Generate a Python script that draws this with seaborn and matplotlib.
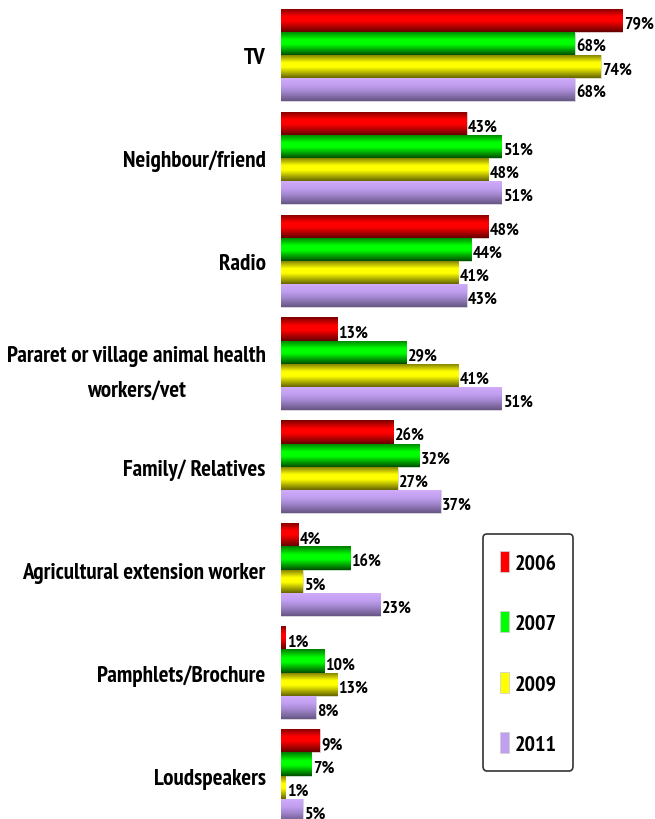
import numpy as np
import pandas as pd
import seaborn as sns
import matplotlib.pyplot as plt
from matplotlib import font_manager
from matplotlib.colors import LinearSegmentedColormap

categories = [
    "TV",
    "Neighbour/friend",
    "Radio",
    "Pararet or village animal health\nworkers/vet",
    "Family/ Relatives",
    "Agricultural extension worker",
    "Pamphlets/Brochure",
    "Loudspeakers",
]
years = ["2006", "2007", "2009", "2011"]
v2006 = [79, 43, 48, 13, 26, 4, 1, 9]
v2007 = [68, 51, 44, 29, 32, 16, 10, 7]
v2009 = [74, 48, 41, 41, 27, 5, 13, 1]
v2011 = [68, 51, 43, 51, 37, 23, 8, 5]
series = [v2006, v2007, v2009, v2011]

# top-to-bottom shading of each bar, giving a rounded "tube" look
shades = [
    [(0.0, "#7a0000"), (0.35, "#ff0000"), (0.55, "#ff0000"), (1.0, "#660000")],
    [(0.0, "#007a00"), (0.35, "#00ff00"), (0.55, "#00ff00"), (1.0, "#005000")],
    [(0.0, "#767600"), (0.35, "#ffff00"), (0.55, "#ffff00"), (1.0, "#666600")],
    [(0.0, "#d2aefa"), (0.35, "#c09ef0"), (0.6, "#a488d0"), (1.0, "#675684")],
]
base_colors = ["#ff0000", "#00ff00", "#ffff00", "#c09ef0"]

df = pd.DataFrame({
    "category": np.tile(categories, len(years)),
    "year": np.repeat(years, len(categories)),
    "value": np.concatenate(series),
})

sns.set_theme(style="white")

# pick a condensed family that ships a bold face
def _is_bold(w):
    return (isinstance(w, int) and w >= 600) or str(w).lower() in ("bold", "semibold", "demibold", "heavy", "black", "extra bold")

bold_families = {f.name for f in font_manager.fontManager.ttflist if _is_bold(f.weight)}
preferred = ["Arial Narrow", "Liberation Sans Narrow", "Archivo Narrow",
             "PT Sans Narrow", "Roboto Condensed", "Fira Sans Condensed",
             "Barlow Condensed", "Pragati Narrow", "Oswald", "Francois One"]
narrow = next((n for n in preferred if n in bold_families), "DejaVu Sans")
plt.rcParams["font.family"] = [narrow, "DejaVu Sans"]
plt.rcParams["font.weight"] = "bold"

W, H = 655, 820
fig = plt.figure(figsize=(W / 100, H / 100), dpi=100)
renderer = fig.canvas.get_renderer()


def size_for_width(text, target_px, ref=10):
    probe = fig.text(0, 0, text, fontsize=ref, fontweight="bold")
    w = probe.get_window_extent(renderer).width
    probe.remove()
    return ref * target_px / w


cat_size = min(size_for_width("Pararet or village animal health", 260), 18)
val_size = min(size_for_width("68%", 30), 15)
leg_size = min(size_for_width("2006", 42), 17)

ax = fig.add_axes([281 / W, 1 - 828 / H, (W - 281) / W, (828 - 4.5) / H])

sns.barplot(
    data=df, y="category", x="value", hue="year", orient="h",
    palette=base_colors, saturation=1, width=0.9,
    edgecolor="#d6d6d6", linewidth=0.6, ax=ax, legend=True,
)

xlim = (0, (W - 281) / 4.32)
ylim = ax.get_ylim()

for i, cont in enumerate(ax.containers):
    cmap = LinearSegmentedColormap.from_list(f"shade{i}", shades[i])
    grad = cmap(np.linspace(0, 1, 64))[:, None, :3]
    for rect in cont:
        x0, y0 = rect.get_x(), rect.get_y()
        w, h = rect.get_width(), rect.get_height()
        im = ax.imshow(grad, extent=[x0, x0 + w, y0 + h, y0], origin="upper",
                       aspect="auto", interpolation="bilinear", zorder=2.5)
        im.set_clip_path(rect)
    labels = ax.bar_label(cont, labels=[f"{v}%" for v in series[i]],
                          padding=2, fontsize=val_size, fontweight="bold",
                          zorder=4, color="black")
    for t in labels:
        t.xyann = (1.0, -2.5)

ax.set_xlim(*xlim)
ax.set_ylim(*ylim)

ax.set_xlabel("")
ax.set_ylabel("")
ax.set_xticks([])
for s in ax.spines.values():
    s.set_visible(False)
ax.tick_params(axis="y", length=0, pad=11, labelsize=cat_size, labelcolor="black")
for t in ax.get_yticklabels():
    t.set_fontweight("bold")
    t.set_multialignment("center")
    t.set_linespacing(1.85)

handles, labs = ax.get_legend_handles_labels()
leg = ax.legend(
    handles, labs, loc="upper left",
    bbox_to_anchor=(483 / W, 1 - 535 / H), bbox_transform=fig.transFigure,
    borderaxespad=0, frameon=True, fancybox=True, edgecolor="black",
    prop={"size": leg_size, "weight": "bold"},
    handlelength=0.45, handleheight=1.1, handletextpad=0.25,
    labelspacing=1.75, borderpad=0.75,
)
leg.get_frame().set_linewidth(1.2)
for txt in leg.get_texts():
    txt.set_color("black")
for hnd in leg.legend_handles:
    hnd.set_edgecolor("#d0d0d0")

fig.savefig("out.png", dpi=100)
